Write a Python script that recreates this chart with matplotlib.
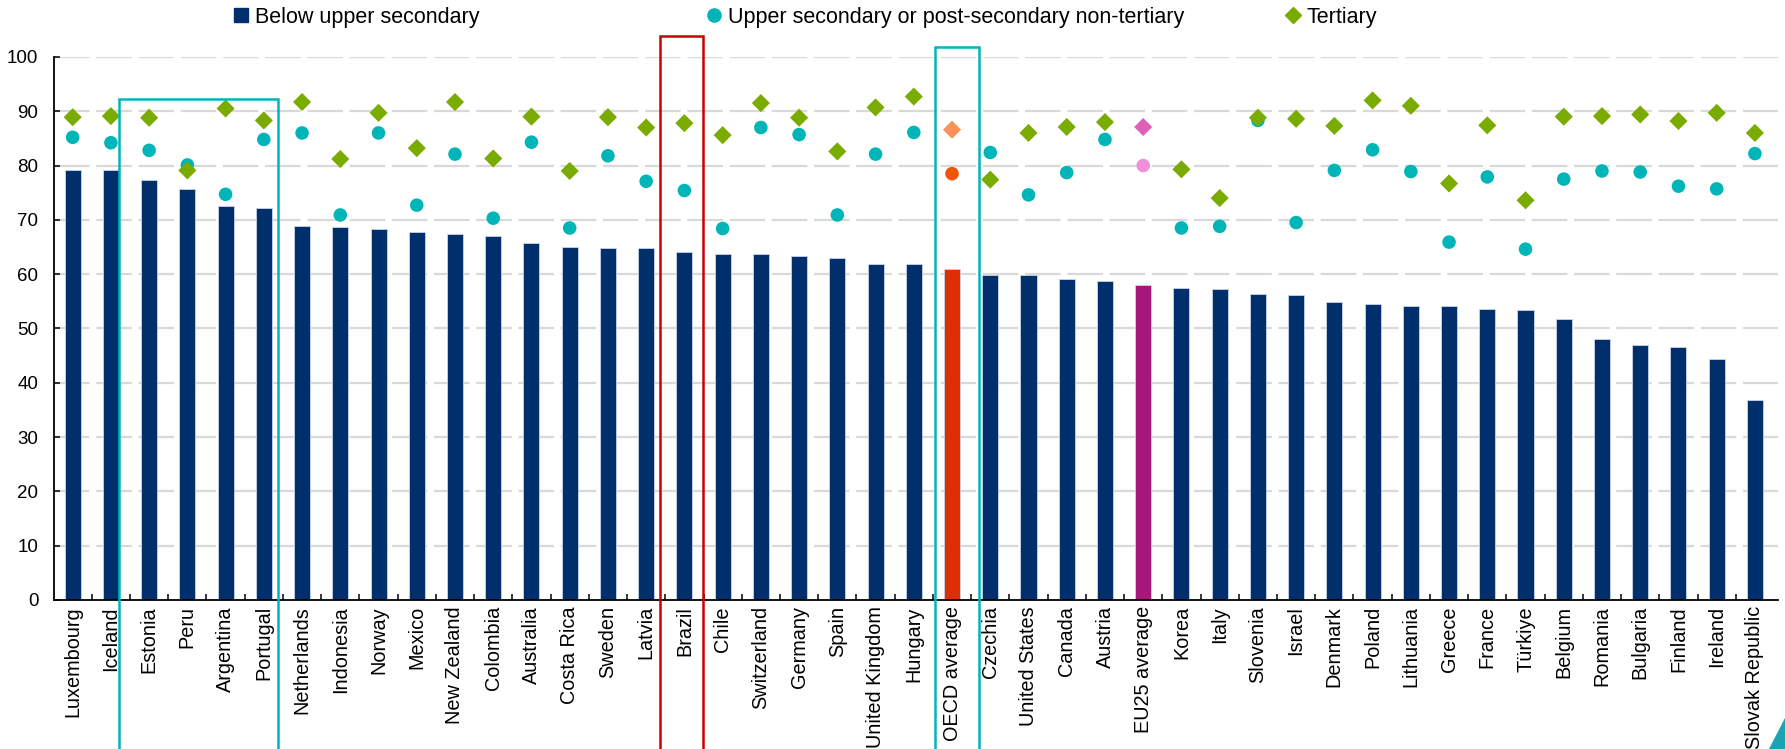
import numpy as np
import matplotlib.pyplot as plt
from matplotlib.lines import Line2D
from matplotlib.patches import Rectangle, Polygon

countries = ["Luxembourg", "Iceland", "Estonia", "Peru", "Argentina", "Portugal",
             "Netherlands", "Indonesia", "Norway", "Mexico", "New Zealand", "Colombia",
             "Australia", "Costa Rica", "Sweden", "Latvia", "Brazil", "Chile",
             "Switzerland", "Germany", "Spain", "United Kingdom", "Hungary",
             "OECD average", "Czechia", "United States", "Canada", "Austria",
             "EU25 average", "Korea", "Italy", "Slovenia", "Israel", "Denmark",
             "Poland", "Lithuania", "Greece", "France", "Türkiye", "Belgium",
             "Romania", "Bulgaria", "Finland", "Ireland", "Slovak Republic"]

below_upper = [79.2, 79.2, 77.4, 75.7, 72.6, 72.1, 68.9, 68.7, 68.4, 67.7, 67.3, 67.1,
               65.8, 65.0, 64.8, 64.8, 64.1, 63.7, 63.7, 63.4, 62.9, 61.9, 61.8,
               61.0, 59.9, 59.9, 59.1, 58.7, 58.0, 57.5, 57.3, 56.3, 56.2, 54.9,
               54.5, 54.2, 54.1, 53.6, 53.4, 51.7, 48.1, 46.9, 46.6, 44.3, 36.9]

upper_sec = [85.2, 84.2, 82.8, 80.1, 74.7, 84.8, 86.0, 70.9, 86.0, 72.7, 82.1, 70.3,
             84.3, 68.5, 81.8, 77.1, 75.4, 68.4, 87.0, 85.7, 70.9, 82.1, 86.1,
             78.5, 82.4, 74.6, 78.7, 84.8, 80.0, 68.5, 68.8, 88.3, 69.5, 79.1,
             82.9, 78.9, 65.9, 77.9, 64.6, 77.5, 79.0, 78.8, 76.2, 75.7, 82.2]

tertiary = [88.9, 89.1, 88.8, 79.1, 90.5, 88.3, 91.7, 81.2, 89.7, 83.2, 91.7, 81.3,
            89.0, 79.0, 88.9, 87.0, 87.8, 85.6, 91.5, 88.8, 82.6, 90.7, 92.7,
            86.6, 77.4, 86.0, 87.1, 88.0, 87.1, 79.3, 74.0, 88.8, 88.6, 87.3,
            92.0, 91.0, 76.7, 87.4, 73.6, 89.0, 89.1, 89.4, 88.2, 89.7, 86.0]

legend_labels = ["Below upper secondary",
                 "Upper secondary or post-secondary non-tertiary",
                 "Tertiary"]

NAVY = "#002f6c"
TEAL = "#00b5b8"
GREEN = "#7aab00"

plt.rcParams['font.family'] = ["Liberation Sans", "DejaVu Sans"]

fig = plt.figure(figsize=(17.85, 7.49), dpi=100)
ax = fig.add_axes([0.030, 0.199, 0.966, 0.725])

x = np.arange(len(countries))
bar_cols = [NAVY] * len(countries)
circ_cols = [TEAL] * len(countries)
diam_cols = [GREEN] * len(countries)
i_oecd = countries.index("OECD average")
i_eu = countries.index("EU25 average")
bar_cols[i_oecd], circ_cols[i_oecd], diam_cols[i_oecd] = "#dc2f02", "#ef5305", "#fb9258"
bar_cols[i_eu], circ_cols[i_eu], diam_cols[i_eu] = "#a6177a", "#f08fd6", "#e060b8"

ax.bar(x, below_upper, width=0.42, color=bar_cols, edgecolor="#c9d4e8",
       linewidth=0.6, zorder=2)
ax.scatter(x, upper_sec, marker='o', s=95, c=circ_cols, linewidths=0, zorder=3)
ax.scatter(x, tertiary, marker='D', s=85, c=diam_cols, linewidths=0, zorder=4)

ax.set_xlim(-0.5, 44.6)
ax.set_ylim(0, 100)
ax.set_yticks(range(0, 101, 10))
ax.set_yticklabels([str(v) for v in range(0, 101, 10)], fontsize=13.5)
ax.set_xticks(x)
ax.set_xticklabels(countries, rotation=90, fontsize=14.3)
ax.set_xticks(np.arange(0.5, 44.5, 1), minor=True)
ax.tick_params(axis='x', which='major', length=0, pad=4.5)
ax.tick_params(axis='x', which='minor', direction='in', length=4, width=1.1)
ax.tick_params(axis='y', direction='in', length=4, width=1.1, pad=11)

for v in range(10, 101, 10):
    ax.axhline(v, color="#d9d9d9", lw=1.6, ls=(0, (16, 3)), zorder=1)

for s in ["top", "right"]:
    ax.spines[s].set_visible(False)
for s in ["left", "bottom"]:
    ax.spines[s].set_linewidth(1.3)
    ax.spines[s].set_color("black")

# highlight boxes running down past the labels
boxes = [(1.22, 5.36, 92.3, TEAL), (15.36, 16.49, 103.8, "#cc0000"),
         (22.56, 23.7, 101.8, TEAL)]
for x0, x1, top, col in boxes:
    ax.add_patch(Rectangle((x0, -40), x1 - x0, top + 40, fill=False,
                           edgecolor=col, lw=1.8, clip_on=False, zorder=5))

# legend, three entries spread across the top
handles = [Line2D([], [], marker='s', ls='none', color=NAVY, markersize=10),
           Line2D([], [], marker='o', ls='none', color=TEAL, markersize=9.5),
           Line2D([], [], marker='D', ls='none', color=GREEN, markersize=8)]
lx = [0.131, 0.396, 0.720]
for h, lab, px in zip(handles, legend_labels, lx):
    fig.legend([h], [lab], loc='center left', bbox_to_anchor=(px, 0.977),
               frameon=False, handlelength=0.7, handletextpad=0.3,
               borderpad=0, borderaxespad=0, prop={'size': 15.5})

fig.add_artist(Polygon([[0.991, 0.0], [1.0, 0.0], [1.0, 0.042]],
                       closed=True, color="#1aa3b0", transform=fig.transFigure))

fig.savefig("out.png", dpi=100)
